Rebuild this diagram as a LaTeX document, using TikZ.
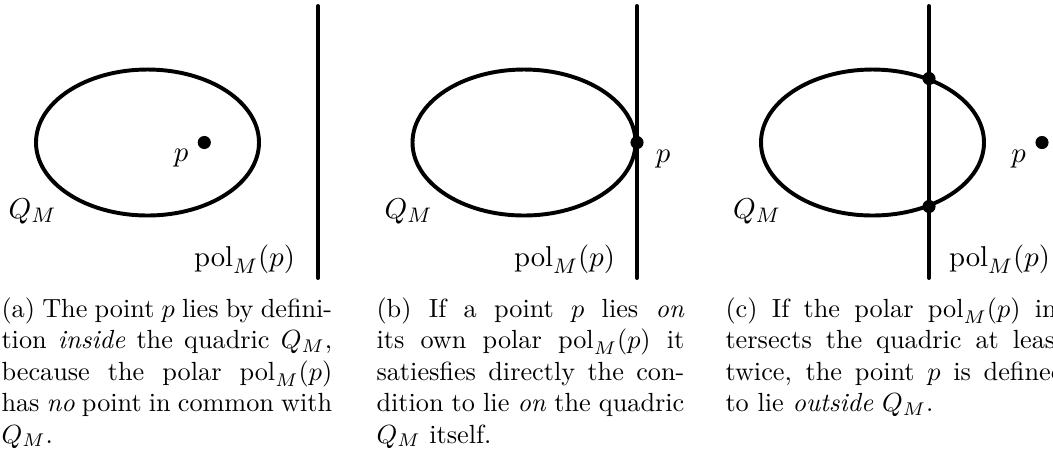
\documentclass[tikz,border=0pt]{standalone}
\begin{document}
\begin{tikzpicture}[x=0.381pt,y=-0.381pt,
  quadric/.style={line width=1.5pt},
  polar/.style={line width=1.5pt, line cap=round},
  dot/.style={circle, fill=black, inner sep=0pt, minimum size=5pt},
  lab/.style={inner sep=0pt, font=\fontsize{11}{13}\selectfont},
  captext/.style={inner sep=0pt, anchor=base west, align=justify, font=\fontsize{10}{12}\selectfont}]
\useasboundingbox (0,0) rectangle (1053,456);

% ---------- panel (a)
\draw[quadric] (147.5,142.5) ellipse [x radius=111.5, y radius=73];
\coordinate (atop) at (318,6);
\coordinate (abot) at (318,278);
\draw[polar] (atop) -- (abot);
\node[dot] (pa) at (204.3,142.5) {};
\node[lab] (la) at (181,158.5) {$p$};
\node[lab] (qa) at (32.5,211.5) {$Q_M$};
\node[lab] (pola) at (244.5,259.5) {$\mathrm{pol}_M(p)$};
\node[captext, text width=126pt] (capa) at (1,317) {(a) The point $p$ lies by defini-\linebreak tion \emph{inside} the quadric $Q_M$,\linebreak because the polar $\mathrm{pol}_M(p)$\linebreak has \emph{no} point in common with\linebreak $Q_M$.};

% ---------- panel (b)
\draw[quadric] (524,142.5) ellipse [x radius=111.5, y radius=73];
\coordinate (btop) at (637,6);
\coordinate (bbot) at (637,278);
\draw[polar] (btop) -- (bbot);
\node[dot] (pb) at (637,142.5) {};
\node[lab] (lb) at (663,159.5) {$p$};
\node[lab] (qb) at (408.5,211.5) {$Q_M$};
\node[lab] (polb) at (564.5,259.5) {$\mathrm{pol}_M(p)$};
\node[captext, text width=117.3pt] (capb) at (376,317) {(b) If a point $p$ lies \emph{on}\linebreak its own polar $\mathrm{pol}_M(p)$ it\linebreak satiesfies directly the con-\linebreak dition to lie \emph{on} the quadric\linebreak $Q_M$ itself.};

% ---------- panel (c)
\draw[quadric] (872.5,142.5) ellipse [x radius=111.5, y radius=73];
\coordinate (ctop) at (929,6);
\coordinate (cbot) at (929,278);
\draw[polar] (ctop) -- (cbot);
\node[dot] (c1) at (929,78.5) {};
\node[dot] (c2) at (929,206.5) {};
\node[dot] (pc) at (1042,142.5) {};
\node[lab] (lc) at (1018.5,159.5) {$p$};
\node[lab] (qc) at (757,211.5) {$Q_M$};
\node[lab] (polc) at (999.5,259.5) {$\mathrm{pol}_M(p)$};
\node[captext, text width=129.5pt] (capc) at (725,317) {(c) If the polar $\mathrm{pol}_M(p)$ in-\linebreak tersects the quadric at least\linebreak twice, the point $p$ is defined\linebreak to lie \emph{outside} $Q_M$.};
\end{tikzpicture}
\end{document}
